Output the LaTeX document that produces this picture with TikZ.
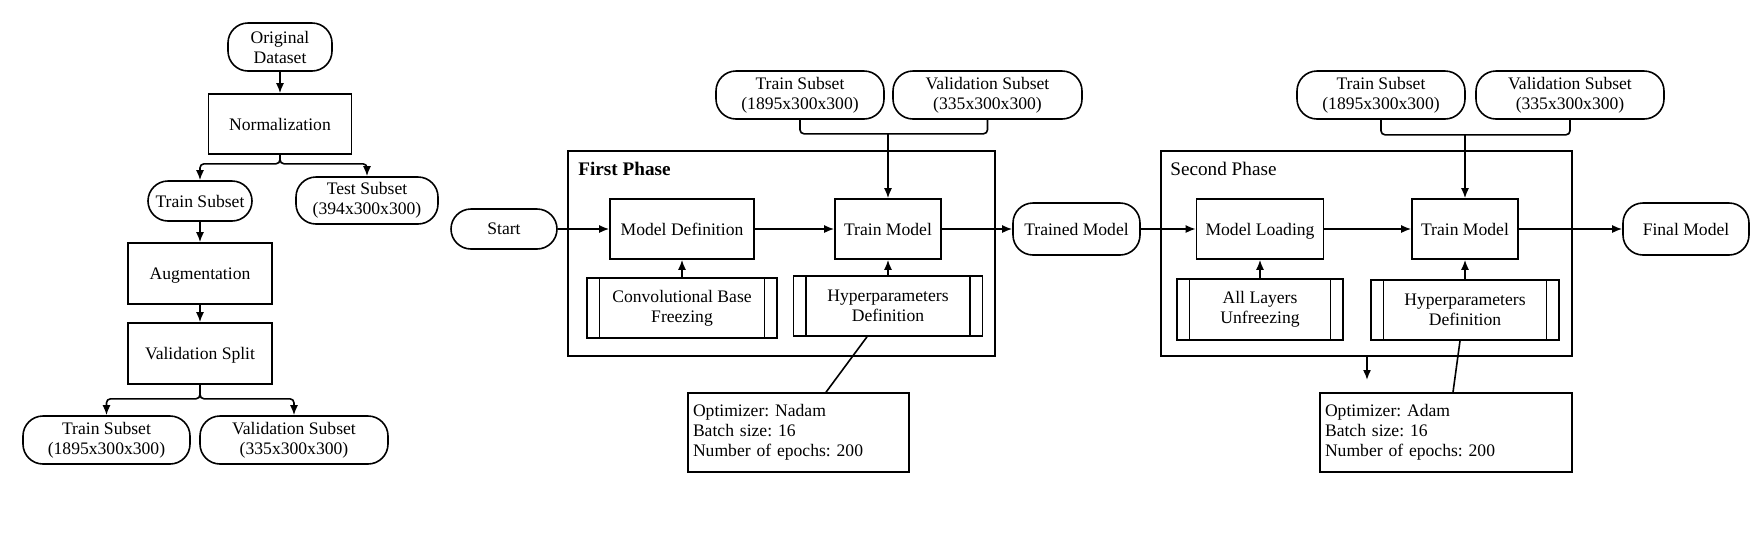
\documentclass[tikz,border=0pt]{standalone}
\usepackage{fontspec}
\setmainfont{Liberation Serif}
\usetikzlibrary{arrows.meta}
\frenchspacing
\begin{document}
\begin{tikzpicture}[x=0.5pt,y=-0.5pt,
  every node/.style={font=\rmfamily\fontsize{8.8}{10}\selectfont},
  termbox/.style={draw, line width=0.8pt, rounded corners=10pt, align=center, inner sep=1pt},
  procbox/.style={draw, line width=0.8pt, align=center, inner sep=1pt},
  subbox/.style={procbox, path picture={
     \draw[line width=0.8pt] ([xshift=6.25pt]path picture bounding box.north west) -- ([xshift=6.25pt]path picture bounding box.south west)
       ([xshift=-6.25pt]path picture bounding box.north east) -- ([xshift=-6.25pt]path picture bounding box.south east);}},
  phasebox/.style={draw, line width=0.8pt, inner sep=0pt},
  notebox/.style={draw, line width=0.8pt, align=left, inner xsep=2.5pt, inner ysep=1pt},
  phaselabel/.style={anchor=west, inner sep=0pt, font=\rmfamily\fontsize{9.6}{11}\selectfont},
  conn/.style={line width=0.8pt, -{Latex[length=5pt,width=4pt]}},
  ln/.style={line width=0.8pt}
]
\useasboundingbox (0,0) rectangle (1762,548);

% ---------- left: data preparation ----------
\node[termbox, minimum width=52pt, minimum height=24pt] (od) at (280,47) {Original\\Dataset};
\node[procbox, minimum width=71.5pt, minimum height=30pt] (norm) at (280,124) {Normalization};
\node[termbox, minimum width=52pt, minimum height=20pt] (ts0) at (200,201) {Train Subset};
\node[termbox, minimum width=71pt, minimum height=23.5pt] (test) at (367,200.5) {Test Subset\\(394x300x300)};
\node[procbox, minimum width=72pt, minimum height=30.5pt, text depth=0pt] (aug) at (200,273.5) {Augmentation};
\node[procbox, minimum width=72pt, minimum height=30.5pt, text depth=0pt] (vsp) at (200,353.5) {Validation Split};
\node[termbox, minimum width=83.5pt, minimum height=24pt] (tsb) at (106.5,440) {Train Subset\\(1895x300x300)};
\node[termbox, minimum width=94pt, minimum height=24pt] (vsb) at (294,440) {Validation Subset\\(335x300x300)};

\draw[conn] (od) -- (norm);
\draw[conn, rounded corners=2pt] (norm.south) -- ++(0,9) -| (ts0.north);
\draw[conn, rounded corners=2pt] (norm.south) -- ++(0,9) -| (test.north);
\draw[conn] (ts0) -- (aug);
\draw[conn] (aug) -- (vsp);
\draw[conn, rounded corners=2pt] (vsp.south) -- ++(0,14) -| (tsb.north);
\draw[conn, rounded corners=2pt] (vsp.south) -- ++(0,14) -| (vsb.north);

% ---------- phase frames ----------
\node[phasebox, minimum width=213.5pt, minimum height=102.5pt] (phase1) at (781.5,253.5) {};
\node[phasebox, minimum width=205.5pt, minimum height=102.5pt] (phase2) at (1366.5,253.5) {};
\node[phaselabel, font=\rmfamily\fontsize{9.6}{11}\selectfont\bfseries] (l1) at (578,169) {First Phase};
\node[phaselabel] (l2) at (1170,169) {Second Phase};

% ---------- main flow ----------
\node[termbox, minimum width=53pt, minimum height=20pt] (start) at (504,229) {Start};
\node[procbox, minimum width=72pt, minimum height=30pt] (md) at (682,229) {Model Definition};
\node[procbox, minimum width=53pt, minimum height=30pt] (tm1) at (888,229) {Train Model};
\node[termbox, minimum width=63.5pt, minimum height=26pt] (trained) at (1076.5,229) {Trained Model};
\node[procbox, minimum width=63.5pt, minimum height=30pt, text depth=0pt] (ml) at (1260,229) {Model Loading};
\node[procbox, minimum width=53pt, minimum height=30pt] (tm2) at (1465,229) {Train Model};
\node[termbox, minimum width=63pt, minimum height=26pt] (final) at (1686,229) {Final Model};

\node[subbox, minimum width=95pt, minimum height=30pt] (conv) at (682,308) {Convolutional Base\\Freezing};
\node[subbox, minimum width=94.5pt, minimum height=30pt] (hp1) at (888,306) {Hyperparameters\\Definition};
\node[subbox, minimum width=83pt, minimum height=30.5pt] (alu) at (1260,309.5) {All Layers\\Unfreezing};
\node[subbox, minimum width=94pt, minimum height=30pt] (hp2) at (1465,310) {Hyperparameters\\Definition};

\node[termbox, minimum width=84pt, minimum height=24pt] (ts1) at (800,95) {Train Subset\\(1895x300x300)};
\node[termbox, minimum width=94.5pt, minimum height=24pt] (vs1) at (987.5,95) {Validation Subset\\(335x300x300)};
\node[termbox, minimum width=84pt, minimum height=24pt] (ts2) at (1381,95) {Train Subset\\(1895x300x300)};
\node[termbox, minimum width=94pt, minimum height=24pt] (vs2) at (1570,95) {Validation Subset\\(335x300x300)};

\node[notebox, text width=105.5pt, minimum height=39.5pt] (opt1) at (798.5,432.5) {Optimizer: Nadam\\Batch size: 16\\Number of epochs: 200};
\node[notebox, text width=121pt, minimum height=39.5pt] (opt2) at (1446,432.5) {Optimizer: Adam\\Batch size: 16\\Number of epochs: 200};

\coordinate (m1) at (888,133);
\coordinate (m2) at (1465,134);
\coordinate (stray) at (1367,380);

\draw[conn] (start) -- (md);
\draw[conn] (md) -- (tm1);
\draw[conn] (tm1) -- (trained);
\draw[conn] (trained) -- (ml);
\draw[conn] (ml) -- (tm2);
\draw[conn] (tm2) -- (final);

\draw[conn] (conv) -- (md);
\draw[conn] (hp1) -- (tm1);
\draw[conn] (alu) -- (ml);
\draw[conn] (hp2) -- (tm2);

\draw[ln, rounded corners=2pt] (ts1.south) -- ++(0,14) -| (vs1.south);
\draw[conn] (m1) -- (tm1);
\draw[ln, rounded corners=2pt] (ts2.south) -- ++(0,15) -| (vs2.south);
\draw[conn] (m2) -- (tm2);

\draw[ln] ([xshift=-10.5pt]hp1.south) -- ([xshift=13.75pt]opt1.north);
\draw[ln] ([xshift=-2.5pt]hp2.south) -- ([xshift=3.5pt]opt2.north);

\draw[conn] (stray |- phase2.south) -- (stray);
\end{tikzpicture}
\end{document}
